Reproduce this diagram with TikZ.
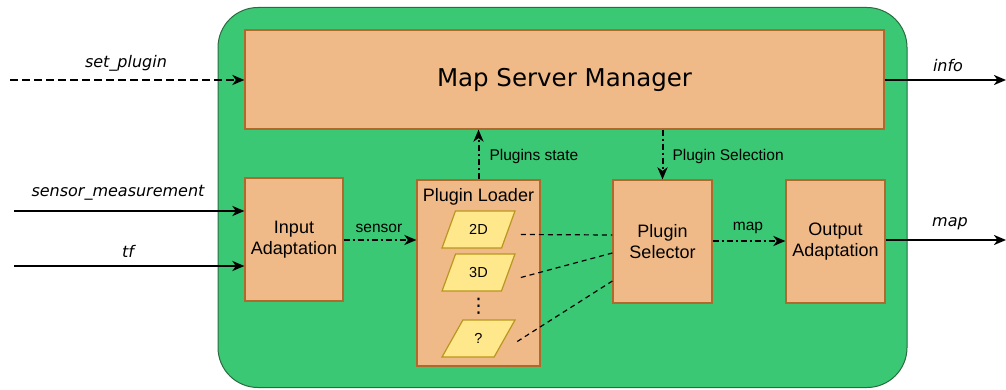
\documentclass[tikz,border=0pt]{standalone}
\usepackage{fontspec}
\setmainfont{DejaVu Sans}
\newfontfamily\arialf{Liberation Sans}
\usetikzlibrary{arrows.meta,shapes.geometric,calc}

\definecolor{bggreen}{RGB}{58,200,116}
\definecolor{greenborder}{RGB}{45,105,65}
\definecolor{boxfill}{RGB}{240,186,136}
\definecolor{boxdraw}{RGB}{175,105,45}
\definecolor{parafill}{RGB}{255,231,140}
\definecolor{paradraw}{RGB}{185,150,30}

\tikzset{
  container/.style={draw=greenborder, fill=bggreen, line width=1pt, rounded corners=40pt},
  blockbox/.style={draw=boxdraw, fill=boxfill, line width=1.2pt, align=center,
    font=\arialf\fontsize{18}{21}\selectfont},
  para/.style={trapezium, trapezium left angle=62, trapezium right angle=118,
    trapezium stretches=true, minimum width=73pt, minimum height=37pt, inner sep=0pt,
    draw=paradraw, fill=parafill, line width=1.2pt, font=\arialf\fontsize{14.5}{17}\selectfont},
  tip/.style={-{Stealth[length=12pt,width=10pt,inset=3.5pt]}},
  mainarrow/.style={tip, line width=2.4pt},
  dasharrow/.style={tip, line width=2.2pt, dash pattern=on 8pt off 4pt},
  dotarrow/.style={tip, line width=2pt, dash pattern=on 6pt off 3pt on 2pt off 3pt},
  thindash/.style={line width=1.2pt, dash pattern=on 5pt off 4pt},
  extlabel/.style={font=\itshape\fontsize{16}{19}\selectfont},
  intlabel/.style={font=\arialf\fontsize{15.5}{18}\selectfont}
}

\begin{document}
\begin{tikzpicture}[x=1pt,y=-1pt]
\useasboundingbox (0,0) rectangle (1006,390);

\node[container, minimum width=689pt, minimum height=380pt] (cont) at (562.5,197.5) {};

\node[blockbox, minimum width=639pt, minimum height=99pt,
  font=\fontsize{24.5}{28}\selectfont] (msm) at (564.5,79.5) {Map Server Manager};
\node[blockbox, minimum width=98pt, minimum height=123pt] (inp) at (294,239.5) {Input\\Adaptation};
\node[blockbox, minimum width=123pt, minimum height=186pt] (pl) at (478.5,273) {};
\node[font=\arialf\fontsize{18}{21}\selectfont, anchor=north] (pltitle) at (478.5,185) {Plugin Loader};
\node[blockbox, minimum width=99pt, minimum height=123pt] (sel) at (662.5,241.5) {Plugin\\Selector};
\node[blockbox, minimum width=99pt, minimum height=123pt] (out) at (835.5,241.5) {Output\\Adaptation};

\node[para] (p2d) at (478.5,229.5) {2D};
\node[para] (p3d) at (478.5,272.5) {3D};
\node[para] (pq) at (478.5,338.5) {?};
\node[font=\fontsize{20}{22}\selectfont] (dots) at (478.5,306) {⋮};

% external inputs
\coordinate (spin) at (10,80);
\coordinate (smin) at (14,211);
\coordinate (tfin) at (14,266);
\coordinate (infoout) at (1006,80);
\coordinate (mapout) at (1006,240);

\draw[dasharrow] (spin) -- (msm.west |- spin);
\draw[mainarrow] (smin) -- (inp.west |- smin);
\draw[mainarrow] (tfin) -- (inp.west |- tfin);
\draw[mainarrow] (msm.east |- infoout) -- (infoout);
\draw[mainarrow] (out.east |- mapout) -- (mapout);

\node[extlabel] (lsp) at (126,63) {set\_plugin};
\node[extlabel] (lsm) at (118,193) {sensor\_measurement};
\node[extlabel] (ltf) at (128,251) {tf};
\node[extlabel] (linfo) at (948,66) {info};
\node[extlabel] (lmap) at (950,224) {map};

% internal
\draw[dotarrow] (inp.east |- 0,240) -- (pl.west |- 0,240);
\node[intlabel] (lsensor) at (379,228) {sensor};
\draw[dotarrow] (sel.east |- 0,241) -- (out.west |- 0,241);
\node[intlabel] (lmapi) at (748,228) {map};
\draw[dotarrow] (pl.north) -- (pl.north |- msm.south);
\node[intlabel, anchor=west] (lps) at (486,156) {Plugins state};
\draw[dotarrow] (sel.north |- msm.south) -- (sel.north);
\node[intlabel, anchor=west] (lpsel) at (669,156) {Plugin Selection};

% plugin links
\draw[thindash] ([xshift=12pt,yshift=-5pt]p2d.east) -- (sel.west |- 0,235);
\draw[thindash] ([xshift=12pt,yshift=-5pt]p3d.east) -- (sel.west |- 0,253);
\draw[thindash] ([xshift=12pt,yshift=-3pt]pq.east) -- (sel.west |- 0,281);
\end{tikzpicture}
\end{document}
